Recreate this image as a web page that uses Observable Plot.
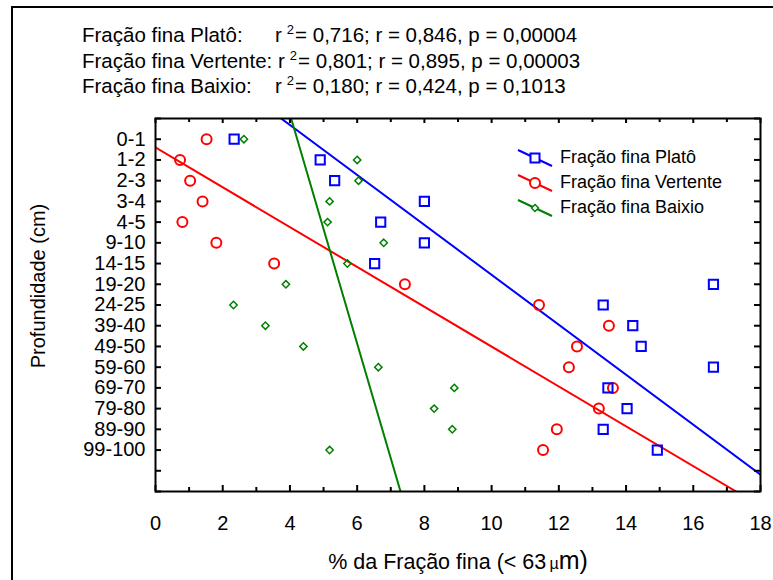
<!DOCTYPE html>
<html>
<head>
<meta charset="utf-8">
<script src="https://cdn.jsdelivr.net/npm/d3@7"></script>
<script src="https://cdn.jsdelivr.net/npm/@observablehq/plot@0.6"></script>
<style>
  html, body { margin: 0; padding: 0; background: #fff; }
  #wrap { position: relative; width: 773px; height: 580px; overflow: hidden; font-family: "Liberation Sans", Arial, sans-serif; color: #000; }
  #outer { position: absolute; left: 11px; top: 6px; width: 900px; height: 900px; border: 2px solid #000; box-sizing: border-box; }
  .hdr { position: absolute; font-size: 20.5px; line-height: 20px; white-space: nowrap; }
  .hdr sup { font-size: 13px; vertical-align: 0; position: relative; top: -8px; margin-left: 5px; margin-right: 1px; }
  .leg { position: absolute; left: 516px; width: 260px; height: 24px; }
  .leg svg { position: absolute; left: 0; top: 0; }
  .leg span { position: absolute; left: 44px; top: 0; font-size: 18px; line-height: 24px; white-space: nowrap; }
  #ylab { position: absolute; left: 38px; top: 286px; transform: translate(-50%, -50%) rotate(-90deg); font-size: 20px; line-height: 20px; white-space: nowrap; }
  #xlab { position: absolute; left: 458px; top: 562px; transform: translate(-50%, -50%); font-size: 21.5px; line-height: 26px; white-space: nowrap; }
  #chart { position: absolute; left: 0; top: 0; }
</style>
</head>
<body>
<div id="wrap">
  <div id="outer"></div>
  <div id="chart"></div>
  <div class="hdr" style="left:82px;top:25px">Fração fina Platô:</div>
  <div class="hdr" style="left:275px;top:25px">r<sup>2</sup>= 0,716; r = 0,846, p = 0,00004</div>
  <div class="hdr" style="left:82px;top:51px">Fração fina Vertente: r<sup>2</sup>= 0,801; r = 0,895, p = 0,00003</div>
  <div class="hdr" style="left:82px;top:76px">Fração fina Baixio:</div>
  <div class="hdr" style="left:275px;top:76px">r<sup>2</sup>= 0,180; r = 0,424, p = 0,1013</div>
  <div id="ylab">Profundidade (cm)</div>
  <div id="xlab">% da Fração fina (&lt; 63<span style="font-size:16px">&thinsp;µ</span><span style="font-size:25px">m)</span></div>
</div>
<script>
// ---- data ----
const depths = ["0-1","1-2","2-3","3-4","4-5","9-10","14-15","19-20","24-25","39-40","49-50","59-60","69-70","79-80","89-90","99-100"];
const plato    = [2.34, 4.90, 5.33, 8.00, 6.70, 8.00, 6.52, 16.60, 13.32, 14.20, 14.45, 16.60, 13.46, 14.03, 13.32, 14.93];
const vertente = [1.52, 0.73, 1.03, 1.40, 0.80, 1.81, 3.53, 7.42, 11.41, 13.49, 12.54, 12.30, 13.61, 13.19, 11.94, 11.53];
const baixio   = [2.63, 6.00, 6.04, 5.18, 5.12, 6.79, 5.71, 3.88, 2.32, 3.27, 4.40, 6.63, 8.89, 8.29, 8.83, 5.18];
const seriesNames = ["Fração fina Platô", "Fração fina Vertente", "Fração fina Baixio"];
const seriesColors = ["#0000ff", "#ff0000", "#008000"];
const xTickLabels = [0, 2, 4, 6, 8, 10, 12, 14, 16, 18];
const xMinorTicks = [1, 3, 5, 7, 9, 11, 13, 15, 17];
const yDomain = [0, 18];
const xDomain = [0, 18];

// ---- layout ----
const W = 773, H = 580, mL = 155, mR = 13, mT = 118, mB = 89;
const plotW = W - mL - mR, plotH = H - mT - mB;

// ---- derived ----
const rows = (vals) => vals.map((v, i) => ({x: v, y: i + 1, depth: depths[i]}));
function fitLine(vals) {
  // least-squares fit of fraction (x) on depth rank (y), extended across the frame
  const ys = vals.map((_, i) => i + 1);
  const mx = d3.mean(vals), my = d3.mean(ys);
  const b = d3.sum(vals, (v, i) => (v - mx) * (ys[i] - my)) / d3.sum(ys, y => (y - my) ** 2);
  const a = mx - b * my;
  return yDomain.map(y => ({x: a + b * y, y}));
}
const yTicksAll = d3.range(yDomain[0], yDomain[1] + 1);
const yLabelTicks = depths.map((_, i) => i + 1);
const tickStyle = {stroke: "#000", strokeWidth: 2};

const chart = Plot.plot({
  width: W,
  height: H,
  marginLeft: mL,
  marginRight: mR,
  marginTop: mT,
  marginBottom: mB,
  style: {fontFamily: '"Liberation Sans", Arial, sans-serif', fontSize: "20px", color: "#000", background: "transparent"},
  x: {domain: xDomain},
  y: {domain: yDomain, reverse: true},
  marks: [
    Plot.line(fitLine(plato),    {x: "x", y: "y", stroke: seriesColors[0], strokeWidth: 2, clip: true}),
    Plot.line(fitLine(vertente), {x: "x", y: "y", stroke: seriesColors[1], strokeWidth: 2, clip: true}),
    Plot.line(fitLine(baixio),   {x: "x", y: "y", stroke: seriesColors[2], strokeWidth: 2, clip: true}),
    Plot.dot(rows(baixio),   {x: "x", y: "y", symbol: "diamond2", r: 3.3, stroke: seriesColors[2], strokeWidth: 1.5, fill: "none"}),
    Plot.dot(rows(vertente), {x: "x", y: "y", symbol: "circle", r: 5, stroke: seriesColors[1], strokeWidth: 2, fill: "none"}),
    Plot.dot(rows(plato),    {x: "x", y: "y", symbol: "square", r: 5.2, stroke: seriesColors[0], strokeWidth: 2, fill: "none"}),
    // inward ticks on all four sides
    Plot.tickX(xTickLabels, {x: d => d, insetTop: plotH - 6, ...tickStyle}),
    Plot.tickX(xMinorTicks, {x: d => d, insetTop: plotH - 4, ...tickStyle}),
    Plot.tickX(xTickLabels, {x: d => d, insetBottom: plotH - 5, ...tickStyle}),
    Plot.tickX(xMinorTicks, {x: d => d, insetBottom: plotH - 4, ...tickStyle}),
    Plot.tickY(yTicksAll, {y: d => d, insetRight: plotW - 6, ...tickStyle}),
    Plot.tickY(yTicksAll, {y: d => d, insetLeft: plotW - 6, ...tickStyle}),
    // tick labels
    Plot.axisX(xTickLabels, {anchor: "bottom", tickSize: 0, tickPadding: 24, label: null, fontSize: 20}),
    Plot.axisY(yLabelTicks, {anchor: "left", tickSize: 0, tickPadding: 10, label: null, fontSize: 20, tickFormat: i => depths[i - 1]}),
    Plot.frame({stroke: "#000", strokeWidth: 2})
  ]
});
document.getElementById("chart").appendChild(chart);

// ---- legend (HTML overlay) ----
const wrap = document.getElementById("wrap");
const legTops = [145, 170, 195];
const symbols = [
  '<rect x="14.5" y="8.5" width="9" height="9" fill="white" stroke="#0000ff" stroke-width="2"/>',
  '<circle cx="19" cy="13" r="5" fill="white" stroke="#ff0000" stroke-width="2"/>',
  '<path d="M19,9.5L22.5,13L19,16.5L15.5,13Z" fill="white" stroke="#008000" stroke-width="1.5"/>'
];
seriesNames.forEach((name, i) => {
  const d = document.createElement("div");
  d.className = "leg";
  d.style.top = legTops[i] + "px";
  d.innerHTML = `<svg width="40" height="24"><line x1="2" y1="5" x2="36" y2="21" stroke="${seriesColors[i]}" stroke-width="2"/>${symbols[i]}</svg><span>${name}</span>`;
  wrap.appendChild(d);
});
</script>
</body>
</html>
